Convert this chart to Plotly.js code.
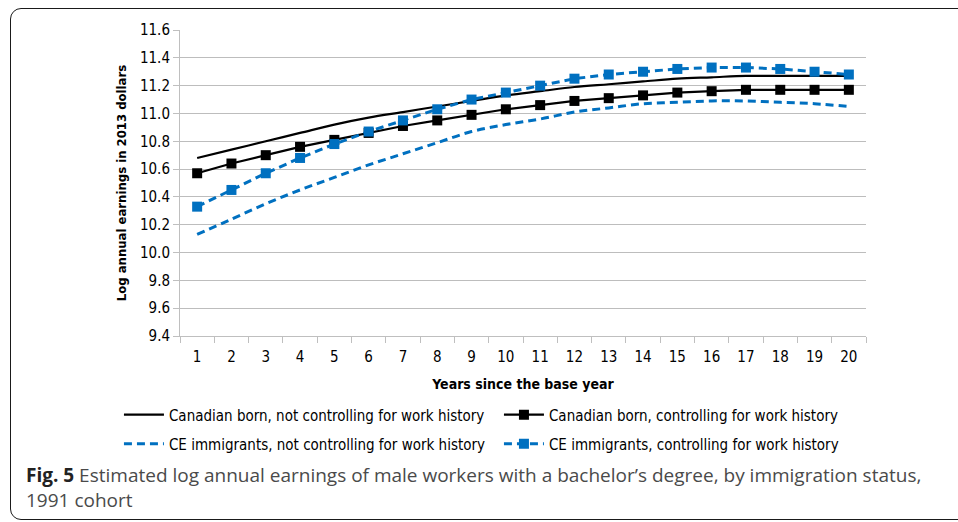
<!DOCTYPE html>
<html>
<head>
<meta charset="utf-8">
<script src="https://cdn.plot.ly/plotly-3.0.1.min.js"></script>
<style>
  html, body { margin: 0; padding: 0; background: #fff; }
  #wrap { position: relative; width: 958px; height: 522px; overflow: hidden; }
  #chart { position: absolute; left: 0; top: 0; width: 958px; height: 522px; }
  #frame { position: absolute; left: 10px; top: 8px; width: 1000px; height: 512px;
           border: 1.6px solid #1a1a1a; border-radius: 11px; pointer-events: none; box-sizing: border-box; }
</style>
</head>
<body>
<div id="wrap">
  <div id="chart"></div>
  <div id="frame"></div>
</div>
<script>
// ---- Data ----
const years = ['1','2','3','4','5','6','7','8','9','10','11','12','13','14','15','16','17','18','19','20'];

const canadianNotCtrl = [10.68, 10.74, 10.80, 10.86, 10.92, 10.97, 11.01, 11.05, 11.09, 11.13,
                         11.16, 11.19, 11.21, 11.23, 11.25, 11.26, 11.27, 11.27, 11.27, 11.27];
const canadianCtrl    = [10.57, 10.64, 10.70, 10.76, 10.81, 10.86, 10.91, 10.95, 10.99, 11.03,
                         11.06, 11.09, 11.11, 11.13, 11.15, 11.16, 11.17, 11.17, 11.17, 11.17];
const ceNotCtrl       = [10.13, 10.24, 10.35, 10.45, 10.54, 10.63, 10.71, 10.79, 10.87, 10.92,
                         10.96, 11.01, 11.04, 11.07, 11.08, 11.09, 11.09, 11.08, 11.07, 11.05];
const ceCtrl          = [10.33, 10.45, 10.57, 10.68, 10.78, 10.87, 10.95, 11.03, 11.10, 11.15,
                         11.20, 11.25, 11.28, 11.30, 11.32, 11.33, 11.33, 11.32, 11.30, 11.28];

const seriesNames = [
  'Canadian born, not controlling for work history',
  'Canadian born, controlling for work history',
  'CE immigrants, not controlling for work history',
  'CE immigrants, controlling for work history'
];

const captionBold = 'Fig. 5';
const captionText = ' Estimated log annual earnings of male workers with a bachelor\u2019s degree, by immigration status,<br>1991 cohort';
const yTitle = 'Log annual earnings in 2013 dollars';
const xTitle = 'Years since the base year';

const BLACK = '#000000';
const BLUE = '#0070C0';
const FONT = 'Liberation Sans Narrow, DejaVu Sans Condensed, Liberation Sans, sans-serif';

const traces = [
  { x: years, y: canadianNotCtrl, name: seriesNames[0], mode: 'lines', legend: 'legend',
    line: { color: BLACK, width: 2.2, shape: 'spline' } },
  { x: years, y: canadianCtrl, name: seriesNames[1], mode: 'lines+markers', legend: 'legend',
    line: { color: BLACK, width: 2.2 }, marker: { symbol: 'square', size: 10, color: BLACK } },
  { x: years, y: ceNotCtrl, name: seriesNames[2], mode: 'lines', legend: 'legend2',
    line: { color: BLUE, width: 3, dash: '8px,5px', shape: 'spline' } },
  { x: years, y: ceCtrl, name: seriesNames[3], mode: 'lines+markers', legend: 'legend2',
    line: { color: BLUE, width: 3, dash: '8px,5px' }, marker: { symbol: 'square', size: 10, color: BLUE } }
];

const legendCommon = {
  orientation: 'h', x: -0.089, xanchor: 'left', yanchor: 'middle',
  entrywidth: 325, entrywidthmode: 'pixels', traceorder: 'normal',
  font: { family: FONT, size: 15, color: '#000' }, itemwidth: 40,
  bgcolor: 'rgba(0,0,0,0)'
};

const layout = {
  width: 958, height: 522,
  margin: { l: 180, r: 92, t: 30, b: 186 },
  paper_bgcolor: '#ffffff', plot_bgcolor: '#ffffff',
  font: { family: FONT, size: 14, color: '#000' },
  showlegend: true,
  legend: Object.assign({}, legendCommon, { y: -0.258 }),
  legend2: Object.assign({}, legendCommon, { y: -0.353 }),
  xaxis: {
    type: 'category', range: [-0.5, 19.5], tickson: 'boundaries', ticks: 'outside', ticklen: 6,
    tickcolor: '#bfbfbf', showline: true, linecolor: '#bfbfbf', linewidth: 1,
    showgrid: false, zeroline: false, ticklabelstandoff: 7,
    tickfont: { family: FONT, size: 15, color: '#000' },
    title: { text: '<b>' + xTitle + '</b>', font: { family: FONT, size: 14, color: '#000' }, standoff: 14 }
  },
  yaxis: {
    range: [9.4, 11.6], dtick: 0.2, tick0: 9.4, tickformat: '.1f',
    ticks: 'outside', ticklen: 6, tickcolor: '#bfbfbf',
    showline: true, linecolor: '#bfbfbf', linewidth: 1,
    showgrid: true, gridcolor: '#bdbdbd', gridwidth: 1, zeroline: false,
    tickfont: { family: FONT, size: 15, color: '#000' },
    title: { text: '<b>' + yTitle + '</b>', font: { family: FONT, size: 13, color: '#000' }, standoff: 10 }
  },
  annotations: [{
    xref: 'paper', yref: 'paper', x: -0.228, y: -0.405, xanchor: 'left', yanchor: 'top',
    align: 'left', showarrow: false,
    text: '<b><span style="color:#222">' + captionBold + '</span></b>' + captionText,
    font: { family: 'Open Sans, Liberation Sans, sans-serif', size: 19, color: '#4a4a4a' }
  }]
};

Plotly.newPlot('chart', traces, layout, { displayModeBar: false, staticPlot: true });
</script>
</body>
</html>
